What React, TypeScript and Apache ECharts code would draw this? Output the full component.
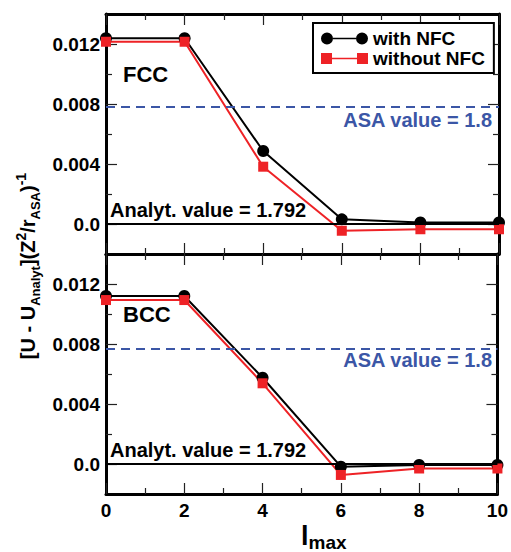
import React, { useEffect, useRef } from "react";
import * as echarts from "echarts";

// l_max values shared by both panels
const lmaxValues = [0, 2, 4, 6, 8, 10];

// FCC panel: [U - U_Analyt](Z^2/r_ASA)^-1
const fccWithNfc = [0.01238, 0.01238, 0.00487, 0.00031, 0.0001, 0.0001];
const fccWithoutNfc = [0.01215, 0.01215, 0.00382, -0.00045, -0.00035, -0.00035];

// BCC panel
const bccWithNfc = [0.0112, 0.0112, 0.00575, -0.00018, -0.00006, -0.00006];
const bccWithoutNfc = [0.01093, 0.01093, 0.00538, -0.00073, -0.0003, -0.0003];

// ASA reference level (relative to analytical value) per panel
const asaLevels = [0.0078, 0.0077];

const panelNames = ["FCC", "BCC"];
const yMajorTicks = [0, 0.004, 0.008, 0.012];
const yMinorTicks = [0.002, 0.006, 0.01];
const xTickLabels = ["0", "2", "4", "6", "8", "10"];

const FONT = '"Liberation Sans", Arial, Helvetica, sans-serif';
const BLUE = "#3b56a6";
const RED = "#ee2226";

const CIRCLE_ICON =
  "path://M0,6A6,6 0 1,1 12,6A6,6 0 1,1 0,6Z M12,5.2L35,5.2L35,6.8L12,6.8Z M35,6A6,6 0 1,1 47,6A6,6 0 1,1 35,6Z";
const SQUARE_ICON =
  "path://M0,0.5L11,0.5L11,11.5L0,11.5Z M11,5.2L36,5.2L36,6.8L11,6.8Z M36,0.5L47,0.5L47,11.5L36,11.5Z";

const GRID_LEFT = 106;
const GRID_WIDTH = 393;
const PANEL_TOPS = [14, 254];
const PANEL_HEIGHT = 240;

const toPairs = (ys: number[]) => lmaxValues.map((x, i) => [x, ys[i]]);

function buildOption() {
  const axisLine = { show: true, onZero: false, lineStyle: { color: "#000", width: 3 } };
  const tickStyle = { color: "#222", width: 1.2 };

  const xAxes: any[] = [];
  const yAxes: any[] = [];
  [0, 1].forEach((g) => {
    ["bottom", "top"].forEach((pos) => {
      const showLabels = g === 1 && pos === "bottom";
      xAxes.push({
        type: "value",
        gridIndex: g,
        position: pos,
        min: 0,
        max: 10,
        interval: 2,
        axisLine,
        axisTick: { show: true, inside: true, length: 11, lineStyle: tickStyle },
        minorTick: { show: true, splitNumber: 2, length: 6, lineStyle: tickStyle },
        splitLine: { show: false },
        minorSplitLine: { show: false },
        axisLabel: {
          show: showLabels,
          margin: 7,
          color: "#000",
          fontSize: 19,
          fontWeight: "bold",
          fontFamily: FONT,
          formatter: (v: number) => xTickLabels[lmaxValues.indexOf(v)] ?? "",
        },
      });
    });
    ["left", "right"].forEach((pos) => {
      yAxes.push({
        type: "value",
        gridIndex: g,
        position: pos,
        min: -0.002,
        max: 0.014,
        axisLine,
        axisTick: { show: true, inside: true, length: 11, customValues: yMajorTicks, lineStyle: tickStyle },
        splitLine: { show: false },
        axisLabel: {
          show: pos === "left",
          customValues: yMajorTicks,
          margin: 6,
          color: "#000",
          fontSize: 19,
          fontWeight: "bold",
          fontFamily: FONT,
          formatter: (v: number) => (Math.abs(v) < 1e-9 ? "0.0" : v.toFixed(3)),
        },
      });
    });
    ["left", "right"].forEach((pos) => {
      yAxes.push({
        type: "value",
        gridIndex: g,
        position: pos,
        min: -0.002,
        max: 0.014,
        axisLine: { show: false, onZero: false },
        axisTick: { show: true, inside: true, length: 6, customValues: yMinorTicks, lineStyle: tickStyle },
        splitLine: { show: false },
        axisLabel: { show: false },
      });
    });
  });

  const panels = [
    { withNfc: fccWithNfc, withoutNfc: fccWithoutNfc },
    { withNfc: bccWithNfc, withoutNfc: bccWithoutNfc },
  ];

  const series: any[] = [];
  panels.forEach((p, g) => {
    series.push({
      name: "with NFC",
      type: "line",
      xAxisIndex: g * 2,
      yAxisIndex: g * 4,
      data: toPairs(p.withNfc),
      symbol: "circle",
      symbolSize: 12,
      clip: false,
      lineStyle: { color: "#000", width: 2 },
      itemStyle: { color: "#000" },
      markLine: {
        silent: true,
        precision: 6,
        symbol: ["none", "none"],
        label: { show: false },
        data: [
          { yAxis: 0, lineStyle: { color: "#000", width: 2, type: "solid" } },
          { yAxis: asaLevels[g], lineStyle: { color: BLUE, width: 2, type: [9, 6] } },
        ],
      },
    });
    series.push({
      name: "without NFC",
      type: "line",
      xAxisIndex: g * 2,
      yAxisIndex: g * 4,
      data: toPairs(p.withoutNfc),
      symbol: "rect",
      symbolSize: 10,
      clip: false,
      lineStyle: { color: RED, width: 2 },
      itemStyle: { color: RED },
    });
  });

  const bold = { fontWeight: "bold", fontFamily: FONT };
  const graphic: any[] = [];
  [0, 1].forEach((g) => {
    const top = PANEL_TOPS[g];
    graphic.push(
      {
        type: "text",
        x: 123,
        y: top + 60,
        style: { text: panelNames[g], fontSize: 22, ...bold, fill: "#000", verticalAlign: "middle" },
      },
      {
        type: "text",
        x: 110,
        y: top + 196,
        style: { text: "Analyt. value = 1.792", fontSize: 20, ...bold, fill: "#000", verticalAlign: "middle" },
      },
      {
        type: "text",
        x: 492,
        y: top + 106,
        style: { text: "ASA value = 1.8", fontSize: 20, ...bold, fill: BLUE, align: "right", verticalAlign: "middle" },
      }
    );
  });

  graphic.push({
    type: "text",
    x: 28,
    y: 266,
    rotation: Math.PI / 2,
    style: {
      text: "{m|[U - U}{s|Analyt}{m|](Z}{p|2}{m|/r}{s|ASA}{m|)}{p|-1}",
      align: "center",
      verticalAlign: "middle",
      fill: "#000",
      rich: {
        m: { fontSize: 20, lineHeight: 28, ...bold, fill: "#000", verticalAlign: "middle" },
        s: { fontSize: 13, lineHeight: 13, ...bold, fill: "#000", verticalAlign: "bottom" },
        p: { fontSize: 14, lineHeight: 14, ...bold, fill: "#000", verticalAlign: "top" },
      },
    },
  });

  graphic.push({
    type: "text",
    x: 301,
    y: 522,
    style: {
      text: "{a|l}{b|max}",
      align: "left",
      verticalAlign: "top",
      fill: "#000",
      rich: {
        a: { fontSize: 27, lineHeight: 27, ...bold, fill: "#000", verticalAlign: "top" },
        b: { fontSize: 19, lineHeight: 30, ...bold, fill: "#000", verticalAlign: "bottom" },
      },
    },
  });

  return {
    animation: false,
    backgroundColor: "#fff",
    grid: PANEL_TOPS.map((t) => ({ left: GRID_LEFT, top: t, width: GRID_WIDTH, height: PANEL_HEIGHT })),
    xAxis: xAxes,
    yAxis: yAxes,
    legend: {
      left: 313,
      top: 23,
      orient: "vertical",
      padding: [6, 9, 5, 8],
      itemGap: 1,
      itemWidth: 47,
      itemHeight: 12,
      borderColor: "#000",
      borderWidth: 2,
      backgroundColor: "#fff",
      selectedMode: false,
      itemStyle: { borderWidth: 0 },
      textStyle: { fontSize: 19, ...bold, color: "#000" },
      data: [
        { name: "with NFC", icon: CIRCLE_ICON },
        { name: "without NFC", icon: SQUARE_ICON },
      ],
    },
    series,
    graphic,
  };
}

export default function App() {
  const ref = useRef<HTMLDivElement>(null);
  useEffect(() => {
    if (!ref.current) return;
    const chart = echarts.init(ref.current, undefined, { renderer: "svg" });
    chart.setOption(buildOption() as any);
    return () => chart.dispose();
  }, []);
  return (
    <div
      ref={ref}
      style={{ position: "absolute", left: 0, top: 0, width: 511, height: 552, background: "#fff" }}
    />
  );
}
